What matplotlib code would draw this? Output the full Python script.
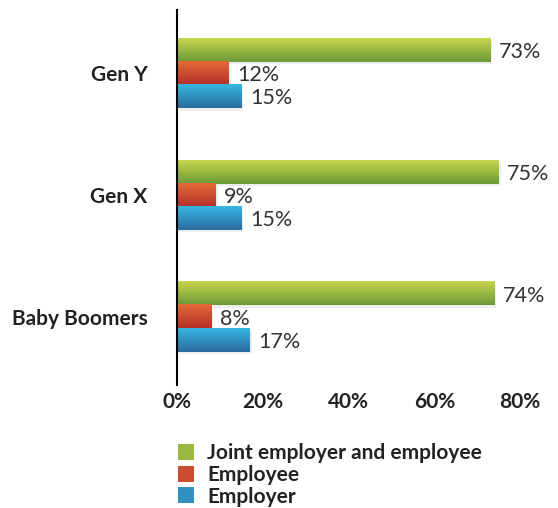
import matplotlib.pyplot as plt
import matplotlib.colors as mcolors
import numpy as np

plt.rcParams['font.family'] = ['Lato', 'DejaVu Sans']

generations = ['Baby Boomers', 'Gen X', 'Gen Y']
joint = [74, 75, 73]
employee = [8, 9, 12]
employer = [17, 15, 15]

series = [
    ('Joint employer and employee', joint, ('#c8d64a', '#6b993a'), 0.19),
    ('Employee', employee, ('#e36b38', '#b5302a'), 0.0),
    ('Employer', employer, ('#36b8e2', '#2c6b9e'), -0.19),
]

fig = plt.figure(figsize=(5.58, 5.08), dpi=100)
ax = fig.add_axes([0.317, 0.242, 0.615, 0.738])

y = np.arange(len(generations))
h = 0.19
handles = []
for name, vals, (top, bottom), off in series:
    c0 = np.array(mcolors.to_rgb(top))
    c1 = np.array(mcolors.to_rgb(bottom))
    mid = (c0 + c1) / 2
    bars = ax.barh(y + off, vals, height=h, color=mid, label=name, zorder=2)
    handles.append(bars[0])
    grad = np.linspace(0, 1, 64)[:, None, None]
    img = c0 * (1 - grad) + c1 * grad
    for b, v in zip(bars, vals):
        x0, y0 = b.get_x(), b.get_y()
        w, hh = b.get_width(), b.get_height()
        # soft drop shadow
        ax.add_patch(plt.Rectangle((x0 + 0.5, y0 - 0.02), w, hh,
                                   color='#000000', alpha=0.07, lw=0, zorder=1))
        ax.imshow(img, extent=(x0, x0 + w, y0, y0 + hh), origin='upper',
                  aspect='auto', zorder=3, interpolation='bilinear')
        ax.text(x0 + w + 2.0, y0 + hh / 2 - 0.015, f'{v}%', va='center', ha='left',
                fontsize=15.5, color='#333333')

ax.set_xlim(0, 80)
ax.set_ylim(-0.56, 2.52)
ax.set_xticks([0, 20, 40, 60, 80])
ax.set_xticklabels(['0%', '20%', '40%', '60%', '80%'], fontweight='bold',
                   fontsize=15, color='#222222')
ax.set_yticks(y)
ax.set_yticklabels(generations, fontweight='bold', fontsize=15, color='#222222')
ax.tick_params(axis='both', length=0)
ax.tick_params(axis='x', pad=5)
ax.tick_params(axis='y', pad=21)
for s in ['top', 'right', 'bottom']:
    ax.spines[s].set_visible(False)
ax.spines['left'].set_linewidth(1.5)
ax.spines['left'].set_zorder(5)

leg = fig.legend(handles, [s[0] for s in series], loc='upper left',
                 bbox_to_anchor=(0.3, 0.148), frameon=False, handlelength=0.8,
                 handleheight=0.8, handletextpad=0.6, labelspacing=0.08,
                 borderpad=0, prop={'weight': 'bold', 'size': 15})
for t in leg.get_texts():
    t.set_color('#222222')

fig.savefig('out.png', dpi=100)
